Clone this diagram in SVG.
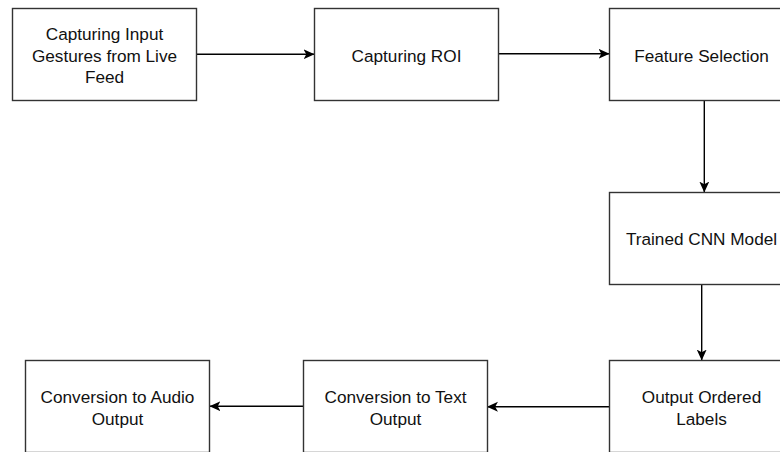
<svg xmlns="http://www.w3.org/2000/svg" width="780" height="452" viewBox="0 0 780 452">
  <style>
    .box { fill: #ffffff; stroke: #333333; stroke-width: 1.4; }
    .lbl { font-family: "Liberation Sans", Arial, sans-serif; font-size: 17.2px; fill: #111111; text-anchor: middle; }
    .edge { fill: none; stroke: #000000; stroke-width: 1.4; marker-end: url(#arrow); }
  </style>
  <defs>
    <marker id="arrow" viewBox="0 0 10 10" refX="9.5" refY="5" markerWidth="11" markerHeight="11" markerUnits="userSpaceOnUse" orient="auto">
      <path d="M0,0.5 L10,5 L0,9.5 L2.5,5 Z" fill="#000000"/>
    </marker>
  </defs>
  <rect width="780" height="452" fill="#ffffff"/>

  <g id="connectors">
    <line class="edge" x1="196.5" y1="54.3" x2="314" y2="54.3"/>
    <line class="edge" x1="498.5" y1="53.8" x2="609" y2="53.8"/>
    <line class="edge" x1="704.3" y1="100.5" x2="704.3" y2="192"/>
    <line class="edge" x1="701.7" y1="284.5" x2="701.7" y2="360"/>
    <line class="edge" x1="609" y1="406.7" x2="487.5" y2="406.7"/>
    <line class="edge" x1="303.5" y1="406.2" x2="210" y2="406.2"/>
  </g>

  <g id="capture-input">
    <rect class="box" x="12.5" y="8.5" width="184" height="92"/>
    <text class="lbl" x="104.5" y="40">Capturing Input</text>
    <text class="lbl" x="104.5" y="61.5">Gestures from Live</text>
    <text class="lbl" x="104.5" y="83">Feed</text>
  </g>

  <g id="capture-roi">
    <rect class="box" x="314.5" y="8.5" width="184" height="92"/>
    <text class="lbl" x="406.5" y="62">Capturing ROI</text>
  </g>

  <g id="feature-selection">
    <rect class="box" x="609.5" y="8.5" width="184" height="92"/>
    <text class="lbl" x="701.5" y="62">Feature Selection</text>
  </g>

  <g id="cnn-model">
    <rect class="box" x="609.5" y="192.5" width="184" height="92"/>
    <text class="lbl" x="701.5" y="245">Trained CNN Model</text>
  </g>

  <g id="ordered-labels">
    <rect class="box" x="609.5" y="360.5" width="184" height="92"/>
    <text class="lbl" x="701.5" y="402.5">Output Ordered</text>
    <text class="lbl" x="701.5" y="424.5">Labels</text>
  </g>

  <g id="text-output">
    <rect class="box" x="303.5" y="360.5" width="184" height="92"/>
    <text class="lbl" x="395.5" y="402.5">Conversion to Text</text>
    <text class="lbl" x="395.5" y="424.5">Output</text>
  </g>

  <g id="audio-output">
    <rect class="box" x="25.5" y="360.5" width="184" height="92"/>
    <text class="lbl" x="117.5" y="402.5">Conversion to Audio</text>
    <text class="lbl" x="117.5" y="424.5">Output</text>
  </g>
</svg>
